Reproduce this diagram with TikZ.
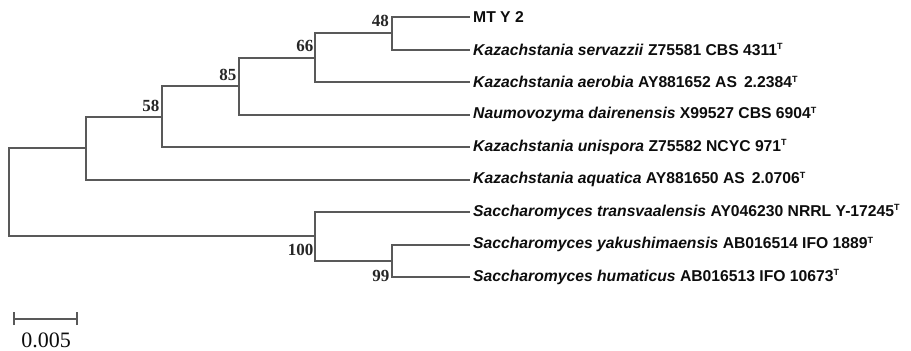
\documentclass[tikz,border=0pt]{standalone}
\usepackage{fontspec}
\setmainfont{Liberation Sans}
\newfontfamily\bsfont{Liberation Serif}
\begin{document}
\begin{tikzpicture}[x=1pt,y=-1pt,
  branch/.style={draw=black!65,line width=2pt},
  leaf/.style={anchor=west,inner sep=0pt,font=\fontsize{15.7}{18}\selectfont\bfseries,text=black!95},
  boot/.style={anchor=east,inner sep=0pt,font=\fontsize{17}{19}\selectfont\bsfont\bfseries,text=black!85},
  scalelab/.style={inner sep=0pt,font=\fontsize{22}{24}\selectfont\bsfont,text=black!95}]
\useasboundingbox (0,0) rectangle (911,351);
\newcommand{\sT}{\textsuperscript{\fontsize{9}{9}\selectfont T}}
% leaves
\node[leaf] (l1) at (473,17) {MT Y 2};
\node[leaf] (l2) at (473,49.5) {\textit{Kazachstania servazzii} Z75581 CBS 4311\sT};
\node[leaf] (l3) at (473,82) {\textit{Kazachstania aerobia} AY881652 AS\, 2.2384\sT};
\node[leaf] (l4) at (473,114.5) {\textit{Naumovozyma dairenensis} X99527 CBS 6904\sT};
\node[leaf] (l5) at (473,147) {\textit{Kazachstania unispora} Z75582 NCYC 971\sT};
\node[leaf] (l6) at (473,179.5) {\textit{Kazachstania aquatica} AY881650 AS\, 2.0706\sT};
\node[leaf] (l7) at (473,212) {\textit{Saccharomyces transvaalensis} AY046230 NRRL Y-17245\sT};
\node[leaf] (l8) at (473,244.5) {\textit{Saccharomyces yakushimaensis} AB016514 IFO 1889\sT};
\node[leaf] (l9) at (473,277) {\textit{Saccharomyces humaticus} AB016513 IFO 10673\sT};
% internal nodes
\coordinate (n48) at (392,33.25);
\coordinate (n66) at (315,57.6);
\coordinate (n85) at (239,86);
\coordinate (n58) at (162,116.5);
\coordinate (nA) at (86,148);
\coordinate (n99) at (392,260.75);
\coordinate (n100) at (315,236.4);
\coordinate (root) at (9,192.2);
% branches
\draw[branch] (root) |- (nA);
\draw[branch] (root) |- (n100);
\draw[branch] (nA) |- (n58);
\draw[branch] (nA) |- ([xshift=-3pt]l6.west);
\draw[branch] (n58) |- (n85);
\draw[branch] (n58) |- ([xshift=-3pt]l5.west);
\draw[branch] (n85) |- (n66);
\draw[branch] (n85) |- ([xshift=-3pt]l4.west);
\draw[branch] (n66) |- (n48);
\draw[branch] (n66) |- ([xshift=-3pt]l3.west);
\draw[branch] (n48) |- ([xshift=-3pt]l1.west);
\draw[branch] (n48) |- ([xshift=-3pt]l2.west);
\draw[branch] (n100) |- ([xshift=-3pt]l7.west);
\draw[branch] (n100) |- (n99);
\draw[branch] (n99) |- ([xshift=-3pt]l8.west);
\draw[branch] (n99) |- ([xshift=-3pt]l9.west);
% bootstrap values
\node[boot] (b48) at (389,21) {48};
\node[boot] (b66) at (313.5,46) {66};
\node[boot] (b85) at (236.5,75) {85};
\node[boot] (b58) at (159.5,106) {58};
\node[boot] (b100) at (313.5,250) {100};
\node[boot] (b99) at (389.5,276) {99};
% scale bar
\coordinate (sbL) at (14,319);
\coordinate (sbR) at (77,319);
\draw[branch,line width=1.6pt] (sbL) -- (sbR);
\draw[branch,line width=1.6pt] ([yshift=-6pt]sbL) -- ([yshift=7pt]sbL);
\draw[branch,line width=1.6pt] ([yshift=-6pt]sbR) -- ([yshift=7pt]sbR);
\node[scalelab] (sbt) at (46,340) {0.005};
\end{tikzpicture}
\end{document}
